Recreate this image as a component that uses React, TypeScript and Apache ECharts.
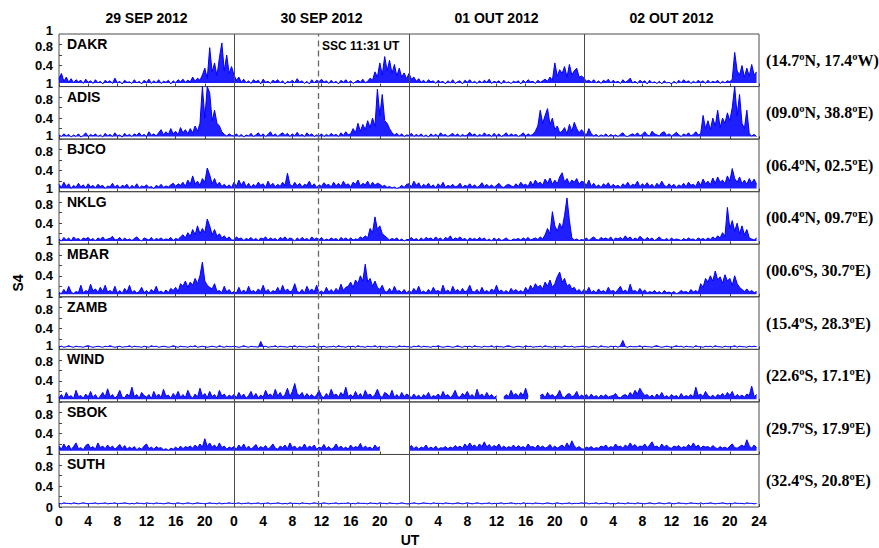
import React, { useEffect, useRef } from 'react';
import * as echarts from 'echarts';

const DAYS = ['29 SEP 2012', '30 SEP 2012', '01 OUT 2012', '02 OUT 2012'];
const STATIONS = ['DAKR', 'ADIS', 'BJCO', 'NKLG', 'MBAR', 'ZAMB', 'WIND', 'SBOK', 'SUTH'];
const COORDS = [
  '(14.7ºN, 17.4ºW)', '(09.0ºN, 38.8ºE)', '(06.4ºN, 02.5ºE)', '(00.4ºN, 09.7ºE)', '(00.6ºS, 30.7ºE)',
  '(15.4ºS, 28.3ºE)', '(22.6ºS, 17.1ºE)', '(29.7ºS, 17.9ºE)', '(32.4ºS, 20.8ºE)',
];
// lower edge of each station's quiet-time noise band (S4)
const BAND_FLOOR = [0.07, 0.05, 0.06, 0.06, 0.05, 0.045, 0.05, 0.07, 0.065];
const Y_LABELED = [0.8, 0.4];
const Y_TOP_LABEL = 1;
const SSC_HOUR = 24 + 11 + 31 / 60; // 30 SEP 11:31 UT
const SSC_LABEL = 'SSC 11:31 UT';
const SAMPLE_H = 1 / 3; // 20-minute samples
const N = null;

// S4 in hundredths, 20-min samples, four days (one line per day)
const DAKR = [
  14,25,10, 18,8,15, 7,13,9, 12,6,14, 8,11,6, 13,7,10, 5,12,8, 11,6,16, 7,10,5, 12,8,9, 6,13,7, 10,5,12, 8,14,6, 11,7,13, 6,10,8, 12,5,11, 7,13,9, 14,8,12, 9,18,10, 16,12,22, 35,15,74, 28,45,20, 55,83,30, 60,25,38,
  22,12,18, 8,14,7, 11,6,13, 9,12,5, 14,8,10, 6,12,9, 13,7,11, 5,10,8, 12,7,15, 8,11,6, 10,5,13, 7,12,9, 14,8,11, 6,12,7, 10,5,12, 8,13,7, 11,6,9, 12,8,14, 7,10,16, 12,28,18, 45,22,57, 30,50,25, 42,20,35, 18,26,15,
  25,14,18, 10,15,8, 12,7,13, 9,11,6, 12,8,10, 5,11,7, 13,6,9, 11,5,12, 8,13,7, 10,6,11, 7,12,8, 14,6,10, 8,11,5, 12,7,9, 6,10,8, 11,5,12, 7,13,9, 10,6,12, 8,11,14, 10,18,12, 45,20,32, 25,38,18, 42,22,30, 35,18,20,
  16,10,12, 8,13,7, 11,6,12, 9,14,7, 12,8,10, 6,13,8, 11,16,7, 10,6,12, 8,11,5, 12,7,9, 6,10,5, 11,7,8, 5,10,6, 12,7,13, 8,11,6, 10,7,12, 8,11,6, 12,7,10, 8,12,6, 10,7,11, 9,14,65, 30,22,40, 18,35,20, 42,22,28,
];
const ADIS = [
  8,5,10, 6,9,4, 8,5,10, 4,7,12, 5,9,6, 10,5,8, 4,11,6, 9,5,12, 6,8,4, 11,6,9, 5,10,7, 12,6,9, 5,14,7, 10,6,12, 18,8,14, 9,20,10, 15,8,22, 12,18,10, 20,12,25, 15,30,100, 40,100,88, 35,55,30, 25,14,9, 6,10,7,
  6,10,5, 9,4,8, 6,11,5, 8,12,6, 10,5,9, 14,6,10, 5,9,12, 7,11,5, 10,6,13, 6,9,5, 12,7,10, 5,8,6, 10,5,9, 6,11,7, 9,5,12, 7,14,8, 10,20,12, 30,15,28, 18,35,22, 40,25,95, 45,85,35, 30,20,12, 8,11,6, 10,5,8,
  7,11,5, 9,6,10, 5,8,4, 10,6,9, 5,12,7, 9,5,8, 11,6,10, 5,9,6, 8,13,7, 10,5,9, 6,12,7, 9,5,11, 6,10,5, 8,12,6, 10,7,9, 5,8,12, 6,10,7, 9,15,25, 55,30,45, 58,28,40, 18,25,12, 15,22,10, 28,15,32, 20,12,18,
  12,8,20, 10,6,9, 5,8,6, 10,5,9, 6,8,5, 9,12,6, 5,8,10, 7,12,6, 9,14,8, 6,15,10, 8,6,12, 14,7,10, 6,9,13, 8,5,10, 7,12,6, 9,14,8, 10,45,20, 35,18,40, 25,55,22, 40,30,50, 35,60,100, 45,85,30, 20,55,10, 6,9,5,
];
const BJCO = [
  14,8,18, 10,15,6, 12,8,16, 9,13,7, 15,9,12, 7,14,10, 12,6,11, 9,16,8, 13,7,12, 10,14,6, 12,8,15, 7,11,9, 13,8,10, 6,12,9, 14,8,11, 9,13,16, 10,15,12, 18,10,22, 14,30,15, 20,12,25, 18,45,32, 15,25,12, 18,10,14, 9,13,8,
  18,10,22, 12,20,9, 16,8,14, 10,18,12, 15,8,20, 11,16,9, 14,10,18, 12,35,14, 10,18,11, 16,9,14, 12,20,10, 15,8,13, 10,17,12, 14,9,18, 11,16,10, 20,12,15, 9,18,14, 22,11,16, 13,20,10, 18,12,16, 14,10,12, 8,10,7, 9,6,8, 12,8,14,
  15,9,20, 12,17,8, 14,10,16, 9,13,7, 15,10,18, 8,12,10, 14,9,11, 16,8,12, 10,15,9, 13,8,11, 17,10,14, 9,13,8, 12,16,10, 8,12,14, 11,9,15, 10,18,12, 14,10,20, 12,22,15, 18,12,24, 16,26,14, 22,15,28, 36,18,25, 15,22,18, 25,14,20,
  18,12,22, 10,16,9, 13,8,15, 11,17,9, 14,10,12, 8,15,11, 18,10,14, 12,20,9, 15,11,17, 10,14,8, 16,11,20, 12,9,15, 10,14,8, 13,10,16, 9,18,12, 14,10,20, 12,24,15, 20,13,26, 16,28,18, 22,15,30, 20,44,25, 18,28,15, 22,14,25, 16,24,14,
];
const NKLG = [
  10,6,13, 8,12,6, 14,9,11, 7,12,10, 13,8,11, 6,12,9, 14,8,10, 11,15,8, 9,13,7, 12,8,10, 7,11,14, 9,6,12, 10,8,13, 7,11,9, 12,8,10, 9,13,7, 11,9,14, 18,12,22, 15,28,18, 35,20,30, 22,48,35, 18,28,15, 20,12,16, 10,14,8,
  8,14,10, 12,7,11, 9,13,8, 11,7,12, 10,14,8, 12,9,11, 7,13,10, 14,8,12, 10,6,12, 8,13,9, 11,7,14, 9,12,8, 13,7,10, 8,12,9, 11,7,13, 9,12,8, 12,8,10, 9,14,11, 16,12,30, 22,52,28, 35,20,16, 12,8,11, 9,12,7, 10,6,9,
  9,13,8, 11,7,12, 8,13,10, 12,8,14, 9,12,7, 13,10,16, 8,12,10, 14,9,11, 7,12,9, 11,8,13, 9,12,7, 10,6,12, 8,11,7, 9,12,8, 7,10,9, 11,8,12, 9,13,8, 10,12,9, 14,10,18, 30,20,62, 35,25,40, 30,55,88, 45,12,8, 10,7,9,
  8,12,7, 11,14,9, 8,13,10, 12,9,14, 7,12,10, 13,9,16, 10,14,8, 12,9,15, 11,8,13, 9,12,7, 10,14,9, 8,11,7, 12,8,10, 9,7,11, 8,12,9, 10,7,12, 9,11,8, 12,9,14, 10,16,12, 22,15,70, 30,45,25, 40,20,35, 18,28,12, 10,8,12,
];
const MBAR = [
  8,6,14, 7,20,9, 6,10,8, 22,7,12, 9,24,11, 15,8,18, 10,22,9, 12,8,20, 7,12,6, 16,9,22, 8,12,7, 10,18,8, 12,7,14, 9,20,8, 11,7,13, 8,16,12, 18,10,25, 20,30,18, 28,22,35, 25,40,66, 30,22,18, 15,25,10, 12,8,20, 9,14,7,
  10,7,18, 8,13,7, 20,9,12, 8,15,10, 22,9,14, 7,12,9, 18,8,22, 10,15,9, 12,25,10, 8,14,7, 20,10,15, 9,22,8, 11,7,18, 9,14,8, 16,10,24, 12,18,20, 28,18,32, 25,40,30, 62,28,35, 20,30,18, 14,22,10, 9,16,8, 20,10,12, 8,14,7,
  12,8,16, 9,20,8, 11,7,14, 8,18,10, 12,8,22, 9,13,7, 20,10,14, 8,16,9, 12,22,10, 9,14,7, 18,9,12, 8,15,10, 22,9,13, 8,12,7, 16,10,14, 9,12,8, 18,10,22, 14,25,18, 22,15,28, 20,32,18, 25,38,47, 28,35,20, 24,15,18, 10,14,8,
  14,9,18, 8,12,7, 15,9,12, 8,18,10, 12,8,14, 20,9,13, 8,24,10, 12,8,16, 9,13,7, 10,8,12, 7,10,6, 12,8,9, 7,10,6, 8,12,9, 10,7,14, 9,12,8, 25,18,35, 28,40,30, 49,32,38, 26,42,30, 35,22,40, 25,18,14, 10,15,9, 12,8,10,
];
const ZAMB = [
  5,6,4, 5,7,5, 4,6,5, 5,4,6, 7,5,4, 5,6,5, 4,6,5, 7,5,4, 5,6,4, 5,5,7, 4,6,5, 5,4,6, 5,4,7, 5,6,4, 5,6,5, 4,5,7, 5,4,6, 5,5,4, 6,5,7, 4,5,6, 5,4,5, 6,5,4, 7,5,4, 6,5,5,
  6,5,4, 5,7,5, 4,6,5, 5,4,15, 5,6,4, 5,5,7, 4,6,5, 5,4,6, 5,7,4, 6,5,5, 4,6,5, 7,4,5, 5,6,4, 5,5,6, 4,7,5, 5,4,6, 5,6,4, 7,5,5, 4,6,5, 5,7,4, 6,5,5, 4,6,5, 5,4,7, 5,6,5,
  5,4,6, 5,7,4, 6,5,5, 4,6,5, 7,5,4, 5,6,5, 4,5,7, 5,4,6, 5,6,4, 7,5,5, 4,6,5, 5,7,4, 6,5,5, 4,6,7, 5,4,5, 6,5,4, 7,5,6, 4,5,5, 6,4,7, 5,5,4, 6,5,5, 4,7,5, 5,6,4, 5,5,6,
  6,5,4, 5,6,5, 4,7,5, 5,4,6, 5,6,4, 7,17,5, 4,6,5, 5,5,7, 4,6,5, 5,4,6, 7,5,4, 5,6,5, 4,5,7, 5,6,4, 6,5,5, 4,7,5, 5,4,6, 5,6,4, 7,5,5, 4,6,5, 5,5,7, 4,6,5, 5,4,6, 5,6,5,
];
const WIND = [
  8,14,6, 18,9,12, 6,22,10, 12,7,15, 9,20,8, 14,6,11, 18,9,25, 10,14,7, 12,22,9, 8,15,11, 28,10,14, 7,18,12, 9,14,6, 20,10,15, 8,24,11, 13,7,16, 10,20,9, 14,8,22, 12,7,15, 9,26,11, 16,8,20, 10,14,7, 22,11,15, 8,13,10,
  14,8,18, 10,15,7, 12,20,9, 16,8,13, 9,22,12, 15,10,24, 11,18,9, 14,26,10, 20,35,15, 12,18,9, 16,10,14, 9,13,22, 11,8,16, 10,24,12, 15,9,18, 12,28,10, 14,9,20, 10,16,8, 22,12,15, 9,14,24, 12,8,18, 15,10,22, 9,14,8, 18,10,15,
  12,8,15, 9,13,7, 14,10,18, 8,12,10, 15,9,20, 11,14,8, 13,22,10, 9,16,12, 20,10,14, 8,24,11, 15,9,18, 10,14,8, 12,N,N, 9,14,10, 22,12,16, 10,18,12, 26,10,N, N,N,N, 12,15,8, 18,11,14, 9,13,22, 10,8,14, 16,10,12, 20,9,13,
  10,14,8, 15,9,12, 8,13,10, 14,9,11, 12,16,9, 8,12,14, 10,18,12, 22,15,26, 18,12,14, 9,13,8, 15,10,18, 9,12,8, 14,10,12, 8,16,9, 12,10,14, 9,28,12, 15,10,20, 12,9,13, 8,14,11, 16,10,18, 12,20,9, 14,10,13, 9,15,12, 30,10,14,
];
const SBOK = [
  16,10,20, 12,18,9, 15,22,11, 13,9,17, 20,12,15, 10,22,13, 16,11,18, 12,16,10, 14,19,11, 17,10,14, 11,15,9, 13,10,16, 20,11,14, 10,15,12, 13,9,11, 8,12,10, 14,10,16, 11,15,13, 16,12,18, 13,20,14, 30,15,22, 14,18,12, 22,13,16, 10,14,12,
  15,10,18, 12,20,11, 16,10,14, 19,11,15, 12,17,10, 14,20,12, 10,16,13, 18,11,22, 13,16,10, 15,12,20, 11,16,13, 18,10,14, 12,19,11, 15,10,13, 20,12,16, 11,14,10, 18,12,15, 13,21,11, 16,12,14, 10,18,12, 15,N,N, N,N,N, N,N,N, N,N,N,
  13,17,11, 15,10,14, 12,18,11, 14,11,16, 10,13,12, 15,11,14, 12,17,13, 16,12,20, 14,22,15, 18,13,20, 15,24,14, 19,13,17, 14,20,12, 16,12,15, 13,18,12, 17,13,15, 12,20,14, 15,12,18, 13,16,12, 14,19,12, 16,12,15, 18,13,22, 14,26,16, 12,15,11,
  10,14,12, 15,11,13, 12,16,14, 18,12,15, 13,20,14, 16,12,18, 14,22,15, 19,13,16, 15,20,13, 18,24,14, 16,12,20, 14,18,13, 12,16,14, 17,12,15, 13,19,14, 22,14,18, 12,16,14, 15,12,17, 13,11,15, 12,14,11, 16,20,13, 12,15,18, 14,28,16, 12,18,13,
];
const SUTH = [
  7,6,8, 7,7,6, 8,7,6, 7,8,7, 6,7,7, 8,6,7, 7,8,6, 7,7,8, 6,7,7, 8,7,6, 7,6,8, 7,7,6, 8,7,7, 6,8,7, 7,6,7, 8,7,6, 7,8,7, 6,7,8, 7,6,7, 8,7,7, 6,7,8, 7,7,6, 8,6,7, 7,8,7,
  7,7,8, 6,7,7, 8,6,7, 7,8,6, 7,7,8, 6,7,7, 8,7,6, 7,6,8, 7,7,7, 6,8,7, 7,6,7, 8,7,6, 7,8,7, 6,7,7, 8,6,7, 7,7,8, 6,7,6, 8,7,7, 7,6,8, 7,7,6, 8,7,7, 6,8,7, 7,6,7, 8,7,6,
  6,7,8, 7,6,7, 8,7,7, 6,8,7, 7,7,6, 8,7,7, 6,7,8, 7,6,7, 8,7,6, 7,8,7, 6,7,7, 8,6,7, 7,7,8, 6,7,7, 8,7,6, 7,6,8, 7,7,7, 6,8,7, 7,6,7, 8,7,6, 7,8,7, 6,7,7, 8,6,7, 7,7,8,
  7,8,6, 7,7,8, 6,7,7, 8,7,6, 7,6,8, 7,7,6, 8,7,7, 6,8,7, 7,6,7, 8,7,6, 7,8,7, 6,7,8, 7,6,7, 8,7,7, 6,7,8, 7,7,6, 8,6,7, 7,8,7, 6,7,7, 8,7,6, 7,6,8, 7,7,7, 6,8,7, 7,6,7,
];
const SERIES_DATA = [DAKR, ADIS, BJCO, NKLG, MBAR, ZAMB, WIND, SBOK, SUTH];

// layout
const W = 879, HGT = 548;
const LEFT = 59, PW = 700, TOP = 34, PH = 52.56;
const SANS = '"Liberation Sans", Arial, sans-serif';
const SERIF = '"Liberation Serif", "Times New Roman", serif';
const BLUE = '#0000ff';

function near(a: number, b: number) { return Math.abs(a - b) < 1e-6; }

export default function App() {
  const ref = useRef<HTMLDivElement>(null);
  useEffect(() => {
    if (!ref.current) return;
    const chart = echarts.init(ref.current, undefined, { renderer: 'svg' });
    const n = STATIONS.length;
    const labelFont = { color: '#000', fontWeight: 'bold', fontSize: 14, fontFamily: SANS };
    const yFont = { color: '#000', fontWeight: 'bold', fontSize: 13, fontFamily: SANS };
    const grids = STATIONS.map((_, k) => ({
      left: LEFT, width: PW, top: TOP + k * PH, height: PH,
      show: true, borderColor: '#4a4a4a', borderWidth: 1, backgroundColor: 'transparent',
    }));
    const xAxes = STATIONS.map((_, k) => ({
      type: 'value', gridIndex: k, min: 0, max: 96, interval: 4,
      axisLine: { show: false },
      axisTick: { show: true, inside: true, length: 3, lineStyle: { color: '#444' } },
      splitLine: { show: false },
      axisLabel: {
        show: k === n - 1, margin: 7, ...labelFont,
        showMinLabel: true, showMaxLabel: true,
        formatter: (v: number) => (v === 96 ? '24' : String(v % 24)),
      },
    }));
    const yAxes: any[] = [];
    STATIONS.forEach((_, k) => {
      // main axis: ticks, 0.8 / 0.4 (and 0 on the bottom panel)
      yAxes.push({
        type: 'value', gridIndex: k, min: 0, max: 1, interval: 0.2, position: 'left',
        axisLine: { show: false },
        axisTick: { show: true, inside: true, length: 3, lineStyle: { color: '#444' } },
        splitLine: { show: false },
        axisLabel: {
          margin: 6, ...yFont, showMinLabel: true, showMaxLabel: false,
          rich: { lo: { ...yFont, padding: [4, 0, 0, 0] } },
          formatter: (v: number) => {
            if (near(v, Y_LABELED[0])) return `{lo|${Y_LABELED[0]}}`;
            if (near(v, Y_LABELED[1])) return String(Y_LABELED[1]);
            if (near(v, 0) && k === n - 1) return '0';
            return '';
          },
        },
      });
      // companion axis carrying only the top "1" label
      yAxes.push({
        type: 'value', gridIndex: k, min: 0, max: 1, interval: 1, position: 'left', offset: 0,
        axisLine: { show: false }, axisTick: { show: false }, splitLine: { show: false },
        axisLabel: {
          margin: 6, ...yFont, showMinLabel: false, showMaxLabel: true,
          rich: { hi: { ...yFont, padding: [0, 0, 7, 0] } },
          formatter: (v: number) => (near(v, Y_TOP_LABEL) ? `{hi|${Y_TOP_LABEL}}` : ''),
        },
      });
    });
    const series = STATIONS.map((name, k) => ({
      type: 'line', name, xAxisIndex: k, yAxisIndex: 2 * k,
      showSymbol: false, symbol: 'none', connectNulls: false,
      lineStyle: { color: BLUE, width: 1 },
      areaStyle: { color: BLUE, opacity: 0.88, origin: BAND_FLOOR[k] },
      data: SERIES_DATA[k].map((v, i) => [i * SAMPLE_H, v == null ? '-' : v / 100]),
      markLine: {
        silent: true, symbol: ['none', 'none'], label: { show: false },
        data: [
          { xAxis: 24, lineStyle: { color: '#4a4a4a', width: 1, type: 'solid' } },
          { xAxis: 48, lineStyle: { color: '#4a4a4a', width: 1, type: 'solid' } },
          { xAxis: 72, lineStyle: { color: '#4a4a4a', width: 1, type: 'solid' } },
          { xAxis: SSC_HOUR, lineStyle: { color: '#666', width: 1.3, type: [6, 4] } },
        ],
      },
    }));
    const dayW = PW / DAYS.length;
    const graphic: any[] = [];
    DAYS.forEach((d, i) => {
      graphic.push({ type: 'text', x: LEFT + dayW * i + dayW / 2, y: 18,
        style: { text: d, font: `bold 14px ${SANS}`, fill: '#000', align: 'center', verticalAlign: 'middle', textAlign: 'center', textVerticalAlign: 'middle' } });
    });
    STATIONS.forEach((s, k) => {
      graphic.push({ type: 'text', x: 67, y: TOP + k * PH + 3,
        style: { text: s, font: `bold 14px ${SANS}`, fill: '#000', align: 'left', verticalAlign: 'top', textAlign: 'left', textVerticalAlign: 'top' } });
      graphic.push({ type: 'text', x: 766, y: TOP + k * PH + PH / 2,
        style: { text: COORDS[k], font: `bold 16px ${SERIF}`, fill: '#000', align: 'left', verticalAlign: 'middle', textAlign: 'left', textVerticalAlign: 'middle' } });
    });
    graphic.push({ type: 'text', x: 322, y: 46,
      style: { text: SSC_LABEL, font: `bold 12px ${SANS}`, fill: '#000', align: 'left', verticalAlign: 'middle', textAlign: 'left', textVerticalAlign: 'middle' } });
    graphic.push({ type: 'text', x: 18, y: 283, rotation: Math.PI / 2,
      style: { text: 'S4', font: `bold 14px ${SANS}`, fill: '#000', align: 'center', verticalAlign: 'middle', textAlign: 'center', textVerticalAlign: 'middle' } });
    graphic.push({ type: 'text', x: 410, y: 540,
      style: { text: 'UT', font: `bold 14px ${SANS}`, fill: '#000', align: 'center', verticalAlign: 'middle', textAlign: 'center', textVerticalAlign: 'middle' } });

    chart.setOption({
      animation: false,
      backgroundColor: '#ffffff',
      grid: grids,
      xAxis: xAxes,
      yAxis: yAxes,
      series,
      graphic,
    });
    return () => chart.dispose();
  }, []);
  return <div ref={ref} style={{ position: 'fixed', left: 0, top: 0, width: W, height: HGT }} />;
}
